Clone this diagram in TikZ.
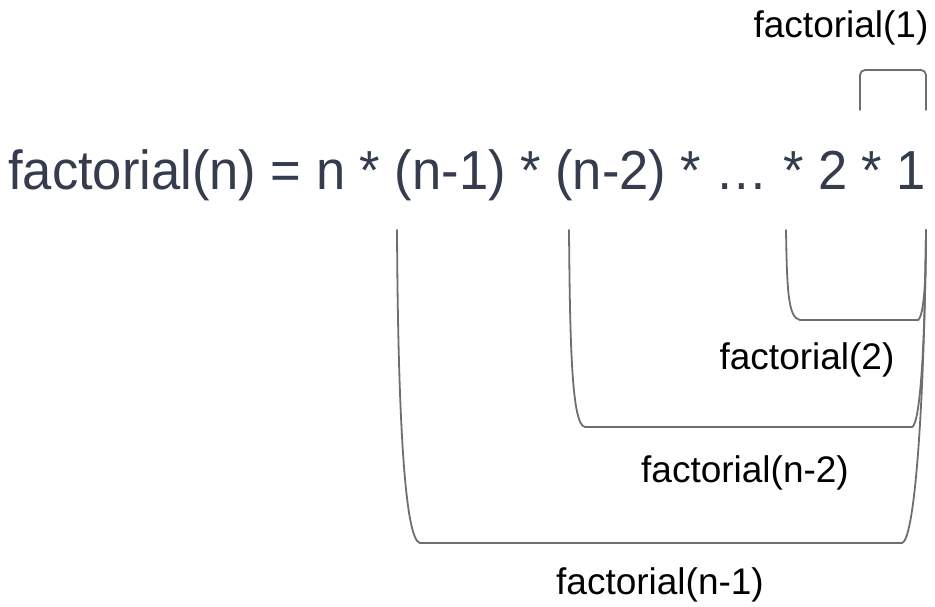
\documentclass[tikz,border=0pt]{standalone}
\usepackage{fontspec}
\setmainfont{Liberation Sans}
\newfontfamily\formulafont[FakeStretch=0.955]{Liberation Sans}
\usepackage{xcolor}
\usetikzlibrary{positioning}
\definecolor{slate}{RGB}{52,60,77}
\definecolor{brk}{RGB}{110,110,110}

\begin{document}
\begin{tikzpicture}[x=1pt, y=-1pt,
    formula/.style={font=\formulafont\fontsize{55}{64}\selectfont, text=slate, inner sep=0},
    call/.style={font=\fontsize{37}{44}\selectfont, text=black, inner sep=0, anchor=base},
    bracket/.style={draw=brk, line width=1.8pt, line cap=round}
]
\useasboundingbox (0,0) rectangle (935,606);

% Formula
\node[formula, anchor=base west] (formula) at (8,189) {factorial(n) = n * (n-1) * (n-2) * … * 2 * 1};

% Labels
\node[call] (f1) at (841,37) {factorial(1)};
\node[call] (f2) at (807,369) {factorial(2)};
\node[call] (fn2) at (745,482) {factorial(n-2)};
\node[call] (fn1) at (660,594) {factorial(n-1)};

% Brackets
\draw[bracket, rounded corners=5pt] (860,110) -- (860,70) -- (926,70) -- (926,110);
\draw[bracket] (786,230) .. controls (787,290) and (788,318) .. (800,320) -- (918,320)
    .. controls (924,316) and (926,280) .. (926,230);
\draw[bracket] (569,230) .. controls (570,350) and (572,425) .. (585,427) -- (912,427)
    .. controls (920,424) and (925,350) .. (926,230);
\draw[bracket] (397,230) .. controls (398,420) and (405,540) .. (420,543) -- (902,543)
    .. controls (914,540) and (924,420) .. (926,230);
\end{tikzpicture}
\end{document}
